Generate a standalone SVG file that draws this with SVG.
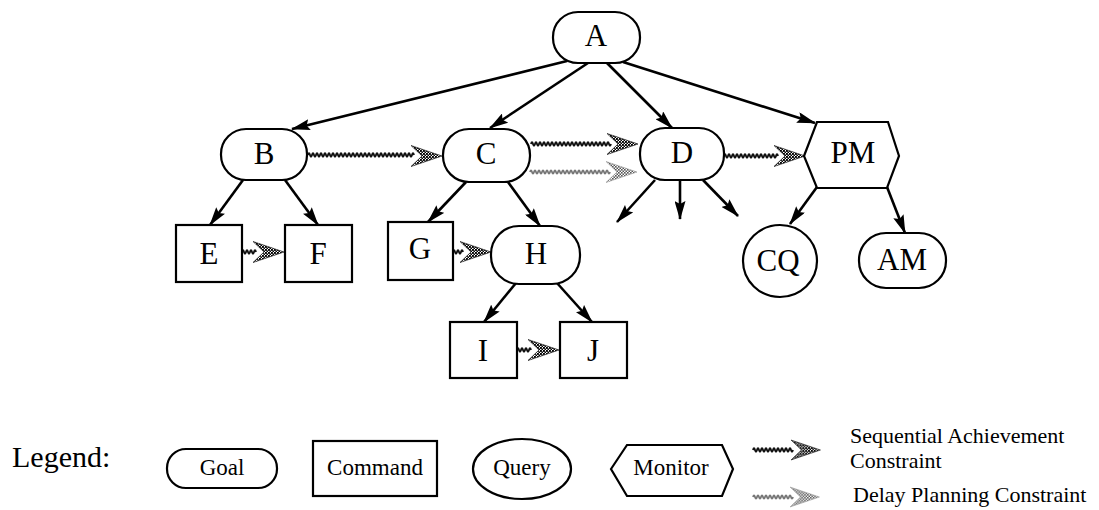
<svg xmlns="http://www.w3.org/2000/svg" xmlns:xlink="http://www.w3.org/1999/xlink" width="1099" height="510" viewBox="0 0 1099 510" font-family="'Liberation Serif', 'DejaVu Serif', serif">
  <style>
    .node { fill: #fff; stroke: #000; stroke-width: 2.2; }
    .lbl { font-family: 'Liberation Serif', 'DejaVu Serif', serif; font-size: 31px; text-anchor: middle; fill: #000; }
    .leg { font-family: 'Liberation Serif', 'DejaVu Serif', serif; font-size: 22px; fill: #000; }
    .legc { text-anchor: middle; font-size: 23px; }
    .edge { stroke: #000; stroke-width: 2.6; fill: none; marker-end: url(#head); }
    .seq { stroke: #111; stroke-width: 1.9; fill: none; }
    .dly { stroke: #777; stroke-width: 1.8; fill: none; }
    .chevS { fill: url(#chk); stroke: #222; stroke-width: 0.7; }
    .chevD { fill: url(#chkL); stroke: #999; stroke-width: 0.6; }
  </style>
  <defs>
    <marker id="head" viewBox="0 0 19 11" refX="18" refY="5.5" markerWidth="19" markerHeight="11" markerUnits="userSpaceOnUse" orient="auto">
      <path d="M0,0 L19,5.5 L0,11 L3,5.5 Z" fill="#000"/>
    </marker>
    <pattern id="chk" width="3" height="3" patternUnits="userSpaceOnUse">
      <rect width="3" height="3" fill="#fff"/>
      <rect width="1.9" height="1.9" fill="#000"/>
      <rect x="1.5" y="1.5" width="1.9" height="1.9" fill="#000"/>
    </pattern>
    <pattern id="chkL" width="3" height="3" patternUnits="userSpaceOnUse">
      <rect width="3" height="3" fill="#fff"/>
      <rect width="1.6" height="1.6" fill="#555"/>
      <rect x="1.5" y="1.5" width="1.6" height="1.6" fill="#555"/>
    </pattern>
    <!-- wavy constraint line, 140 units long; trimmed with stroke-dasharray -->
    <path id="wave" pathLength="140" d="M0 0q1-3.4 2 0t2 0t2 0t2 0t2 0t2 0t2 0t2 0t2 0t2 0t2 0t2 0t2 0t2 0t2 0t2 0t2 0t2 0t2 0t2 0t2 0t2 0t2 0t2 0t2 0t2 0t2 0t2 0t2 0t2 0t2 0t2 0t2 0t2 0t2 0t2 0t2 0t2 0t2 0t2 0t2 0t2 0t2 0t2 0t2 0t2 0t2 0t2 0t2 0t2 0t2 0t2 0t2 0t2 0t2 0t2 0t2 0t2 0t2 0t2 0t2 0t2 0t2 0t2 0t2 0t2 0t2 0t2 0t2 0t2 0"/>
    <!-- notched chevron arrowhead -->
    <path id="chev" d="M0,-10.5 L31,0 L0,10.5 L11,0 Z"/>
  </defs>

  <!-- hierarchy edges and constraints -->
  <g id="connectors">
    <line class="edge" x1="567" y1="61" x2="292" y2="129"/>
    <line class="edge" x1="588" y1="63" x2="490" y2="128"/>
    <line class="edge" x1="607" y1="63" x2="672" y2="128"/>
    <line class="edge" x1="623" y1="62" x2="815" y2="123"/>
    <line class="edge" x1="243" y1="180" x2="210" y2="225"/>
    <line class="edge" x1="285" y1="180" x2="318" y2="225"/>
    <line class="edge" x1="466" y1="182" x2="428" y2="222"/>
    <line class="edge" x1="508" y1="182" x2="540" y2="226"/>
    <line class="edge" x1="516" y1="283" x2="484" y2="322"/>
    <line class="edge" x1="557" y1="283" x2="592" y2="322"/>
    <line class="edge" x1="655" y1="180" x2="617" y2="222"/>
    <line class="edge" x1="680" y1="180" x2="680" y2="219"/>
    <line class="edge" x1="703" y1="180" x2="738" y2="216"/>
    <line class="edge" x1="817" y1="187" x2="790" y2="224"/>
    <line class="edge" x1="887" y1="187" x2="905" y2="233"/>

    <!-- sequential achievement constraints -->
    <use xlink:href="#wave" class="seq" x="308" y="155" style="stroke-dasharray:106 400"/>
    <use xlink:href="#chev" class="chevS" x="411" y="156"/>
    <use xlink:href="#wave" class="seq" x="531" y="144" style="stroke-dasharray:80 400"/>
    <use xlink:href="#chev" class="chevS" x="607" y="144"/>
    <use xlink:href="#wave" class="seq" x="724" y="156" style="stroke-dasharray:54 400"/>
    <use xlink:href="#chev" class="chevS" x="774" y="156"/>
    <use xlink:href="#wave" class="seq" x="242" y="252" style="stroke-dasharray:14 400"/>
    <use xlink:href="#chev" class="chevS" x="253" y="252"/>
    <use xlink:href="#wave" class="seq" x="453" y="252" style="stroke-dasharray:10 400"/>
    <use xlink:href="#chev" class="chevS" x="460" y="252"/>
    <use xlink:href="#wave" class="seq" x="517" y="350" style="stroke-dasharray:14 400"/>
    <use xlink:href="#chev" class="chevS" x="528" y="350"/>

    <!-- delay planning constraint -->
    <use xlink:href="#wave" class="dly" x="530" y="172" style="stroke-dasharray:80 400"/>
    <use xlink:href="#chev" class="chevD" x="606" y="172"/>
  </g>

  <!-- goal, command, query and monitor nodes -->
  <g id="node-A"><rect class="node" x="553" y="12" width="87" height="51" rx="25"/><text class="lbl" x="596" y="46">A</text></g>
  <g id="node-B"><rect class="node" x="221" y="129" width="86" height="51" rx="25"/><text class="lbl" x="264" y="164">B</text></g>
  <g id="node-C"><rect class="node" x="443" y="129" width="87" height="53" rx="26"/><text class="lbl" x="486" y="164">C</text></g>
  <g id="node-D"><rect class="node" x="640" y="128" width="84" height="52" rx="25"/><text class="lbl" x="682" y="163">D</text></g>
  <g id="node-PM"><polygon class="node" points="804,156 817,122 888,122 899,156 887,188 817,188"/><text class="lbl" x="853" y="163">PM</text></g>
  <g id="node-E"><rect class="node" x="176" y="225" width="66" height="57"/><text class="lbl" x="209" y="264">E</text></g>
  <g id="node-F"><rect class="node" x="285" y="225" width="67" height="57"/><text class="lbl" x="318" y="264">F</text></g>
  <g id="node-G"><rect class="node" x="388" y="222" width="65" height="58"/><text class="lbl" x="420" y="259">G</text></g>
  <g id="node-H"><rect class="node" x="491" y="226" width="89" height="58" rx="28"/><text class="lbl" x="536" y="264">H</text></g>
  <g id="node-I"><rect class="node" x="450" y="322" width="67" height="56"/><text class="lbl" x="483" y="361">I</text></g>
  <g id="node-J"><rect class="node" x="560" y="322" width="67" height="56"/><text class="lbl" x="593" y="361">J</text></g>
  <g id="node-CQ"><ellipse class="node" cx="780" cy="261" rx="37" ry="36"/><text class="lbl" x="778" y="271">CQ</text></g>
  <g id="node-AM"><rect class="node" x="859" y="233" width="87" height="55" rx="27"/><text class="lbl" x="902" y="270">AM</text></g>

  <!-- legend -->
  <g id="legend">
    <text class="leg" x="12" y="467" style="font-size:30px">Legend:</text>
    <rect class="node" x="167" y="449" width="110" height="39" rx="19"/>
    <text class="leg legc" x="222" y="475">Goal</text>
    <rect class="node" x="313" y="441" width="124" height="55"/>
    <text class="leg legc" x="375" y="475">Command</text>
    <ellipse class="node" cx="522" cy="469" rx="49" ry="30"/>
    <text class="leg legc" x="522" y="475">Query</text>
    <polygon class="node" points="611,469 627,445 722,445 733,469 722,496 627,496"/>
    <text class="leg legc" x="671" y="475">Monitor</text>
    <use xlink:href="#wave" class="seq" x="753" y="450" style="stroke-dasharray:40 400"/>
    <use xlink:href="#chev" class="chevS" x="791" y="450" transform="translate(791 450) scale(0.95) translate(-791 -450)"/>
    <text class="leg" x="850" y="443">Sequential Achievement</text>
    <text class="leg" x="850" y="468">Constraint</text>
    <use xlink:href="#wave" class="dly" x="753" y="497" style="stroke-dasharray:40 400"/>
    <use xlink:href="#chev" class="chevD" x="790" y="497" transform="translate(790 497) scale(0.95) translate(-790 -497)"/>
    <text class="leg" x="853" y="502">Delay Planning Constraint</text>
  </g>
</svg>
